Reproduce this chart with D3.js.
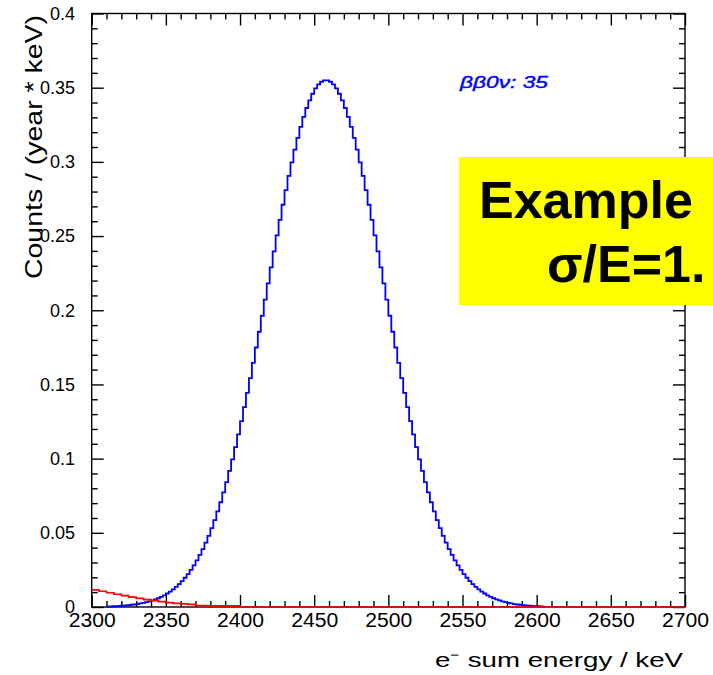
<!DOCTYPE html>
<meta charset="utf-8">
<script src="https://d3js.org/d3.v7.min.js"></script>
<style>
  body { margin: 0; background: #fff; }
  text { font-family: "Liberation Sans", Arial, sans-serif; }
</style>
<div id="chart"></div>
<script>
    // energy axis and count axis
    var xDomain = [2300, 2700];
    var yDomain = [0, 0.4];
    var xMajor = [2300, 2350, 2400, 2450, 2500, 2550, 2600, 2650, 2700];
    var yMajor = [0, 0.05, 0.1, 0.15, 0.2, 0.25, 0.3, 0.35, 0.4];
    var yLabels = ["0", "0.05", "0.1", "0.15", "0.2", "0.25", "0.3", "0.35", "0.4"];

    // signal histogram, 2 keV bins starting at 2310 keV
    var blueStart = 2310, blueWidth = 2;
    var blueValues = [
        0.0003, 0.0004, 0.0005, 0.0006, 0.0007, 0.0009, 0.0010, 0.0012, 0.0015, 0.0017,
        0.0020, 0.0024, 0.0028, 0.0033, 0.0038, 0.0044, 0.0051, 0.0059, 0.0068, 0.0079,
        0.0091, 0.0104, 0.0119, 0.0135, 0.0154, 0.0174, 0.0197, 0.0222, 0.0250, 0.0280,
        0.0314, 0.0351, 0.0390, 0.0434, 0.0480, 0.0531, 0.0585, 0.0644, 0.0706, 0.0772,
        0.0842, 0.0917, 0.0995, 0.1077, 0.1164, 0.1253, 0.1347, 0.1443, 0.1543, 0.1645,
        0.1749, 0.1855, 0.1963, 0.2072, 0.2181, 0.2289, 0.2397, 0.2504, 0.2609, 0.2711,
        0.2810, 0.2906, 0.2996, 0.3082, 0.3162, 0.3236, 0.3303, 0.3363, 0.3415, 0.3459,
        0.3495, 0.3522, 0.3540, 0.3549,
        0.3549, 0.3540, 0.3522, 0.3495, 0.3459, 0.3415, 0.3363, 0.3303, 0.3236, 0.3162,
        0.3082, 0.2996, 0.2906, 0.2810, 0.2711, 0.2609, 0.2504, 0.2397, 0.2289, 0.2181,
        0.2072, 0.1963, 0.1855, 0.1749, 0.1645, 0.1543, 0.1443, 0.1347, 0.1253, 0.1164,
        0.1077, 0.0995, 0.0917, 0.0842, 0.0772, 0.0706, 0.0644, 0.0585, 0.0531, 0.0480,
        0.0434, 0.0390, 0.0351, 0.0314, 0.0280, 0.0250, 0.0222, 0.0197, 0.0174, 0.0154,
        0.0135, 0.0119, 0.0104, 0.0091, 0.0079, 0.0068, 0.0059, 0.0051, 0.0044, 0.0038,
        0.0033, 0.0028, 0.0024, 0.0020, 0.0017, 0.0015, 0.0012, 0.0010, 0.0009, 0.0007,
        0.0006, 0.0005, 0.0004, 0.0003
    ];

    // background histogram, 5 keV bins from 2300, zero above 2400
    var redStart = 2300, redWidth = 5;
    var redValues = [
        0.0116, 0.0106, 0.0096, 0.0086, 0.0076, 0.0067, 0.0058, 0.0050, 0.0043, 0.0036,
        0.0030, 0.0025, 0.0021, 0.0018, 0.0010, 0.0009, 0.0008, 0.0008, 0.0007, 0.0007
    ];

    var W = 713, H = 675;
    var plot = { left: 91.7, right: 685, top: 13.5, bottom: 607 };

    var svg = d3.select("#chart").append("svg")
        .attr("width", W).attr("height", H);

    var x = d3.scaleLinear().domain(xDomain).range([plot.left, plot.right]);
    var y = d3.scaleLinear().domain(yDomain).range([plot.bottom, plot.top]);

    var xMinor = d3.range(xDomain[0], xDomain[1] + 1, 10).filter(function (v) { return v % 50 !== 0; });
    var yMinor = d3.range(1, 40).filter(function (i) { return i % 5 !== 0; }).map(function (i) { return i / 100; });

    function tickStyle(g) {
        g.select(".domain").remove();
        g.selectAll("line").attr("stroke", "#000").attr("stroke-width", 1.4);
    }

    // bottom axis
    var gBottom = svg.append("g").attr("transform", "translate(0," + plot.bottom + ")");
    gBottom.append("g").call(d3.axisBottom(x).tickValues(xMinor).tickSize(-6).tickFormat("")).call(tickStyle);
    gBottom.append("g").call(d3.axisBottom(x).tickValues(xMajor).tickSize(-12).tickPadding(6).tickFormat(d3.format("d")))
        .call(tickStyle)
        .selectAll("text").attr("font-size", 20).attr("fill", "#000")
        .attr("textLength", 47).attr("lengthAdjust", "spacingAndGlyphs")
        .style("font-family", "'Liberation Sans', Arial, sans-serif");

    // top axis
    var gTop = svg.append("g").attr("transform", "translate(0," + plot.top + ")");
    gTop.append("g").call(d3.axisTop(x).tickValues(xMinor).tickSize(-6).tickFormat("")).call(tickStyle);
    gTop.append("g").call(d3.axisTop(x).tickValues(xMajor).tickSize(-12).tickFormat("")).call(tickStyle);

    // left axis
    var gLeft = svg.append("g").attr("transform", "translate(" + plot.left + ",0)");
    gLeft.append("g").call(d3.axisLeft(y).tickValues(yMinor).tickSize(-6).tickFormat("")).call(tickStyle);
    gLeft.append("g").call(d3.axisLeft(y).tickValues(yMajor).tickSize(-12).tickPadding(16.7)
        .tickFormat(function (d, i) { return yLabels[i]; }))
        .call(tickStyle)
        .selectAll("text").attr("font-size", 18).attr("fill", "#000")
        .style("font-family", "'Liberation Sans', Arial, sans-serif");

    // right axis
    var gRight = svg.append("g").attr("transform", "translate(" + plot.right + ",0)");
    gRight.append("g").call(d3.axisRight(y).tickValues(yMinor).tickSize(-6).tickFormat("")).call(tickStyle);
    gRight.append("g").call(d3.axisRight(y).tickValues(yMajor).tickSize(-12).tickFormat("")).call(tickStyle);

    // frame
    svg.append("rect")
        .attr("x", plot.left).attr("y", plot.top)
        .attr("width", plot.right - plot.left).attr("height", plot.bottom - plot.top)
        .attr("fill", "none").attr("stroke", "#000").attr("stroke-width", 1.4);

    var step = d3.line()
        .x(function (d) { return x(d[0]); })
        .y(function (d) { return y(d[1]); })
        .curve(d3.curveStepAfter);

    function histPoints(start, width, values) {
        var pts = values.map(function (v, i) { return [start + i * width, v]; });
        pts.push([start + values.length * width, values[values.length - 1]]);
        return pts;
    }

    // signal
    svg.append("path")
        .attr("d", step(histPoints(blueStart, blueWidth, blueValues)))
        .attr("fill", "none").attr("stroke", "#0000ff").attr("stroke-width", 1.8);

    // background
    var redPts = histPoints(redStart, redWidth, redValues);
    redPts.push([redStart + redValues.length * redWidth, 0]);
    redPts.push([xDomain[1], 0]);
    svg.append("path")
        .attr("d", step(redPts))
        .attr("fill", "none").attr("stroke", "#ff0000").attr("stroke-width", 1.7);

    // axis titles
    svg.append("text")
        .attr("transform", "translate(41.7,279) rotate(-90)")
        .attr("font-size", 24)
        .attr("textLength", 264).attr("lengthAdjust", "spacingAndGlyphs")
        .text("Counts / (year * keV)");

    svg.append("text")
        .attr("x", 435).attr("y", 667)
        .attr("font-size", 20)
        .attr("textLength", 248).attr("lengthAdjust", "spacingAndGlyphs")
        .text("e\u207B sum energy / keV");

    // legend
    svg.append("text")
        .attr("x", 460).attr("y", 88)
        .attr("font-size", 17).attr("font-style", "italic")
        .attr("fill", "#0000ff").attr("stroke", "#0000ff").attr("stroke-width", 0.4)
        .attr("textLength", 88).attr("lengthAdjust", "spacingAndGlyphs")
        .text("\u03B2\u03B20\u03BD: 35");

    // yellow note
    svg.append("rect")
        .attr("x", 459).attr("y", 157)
        .attr("width", W - 459).attr("height", 148)
        .attr("fill", "#ffff00");
    svg.append("text")
        .attr("x", 479).attr("y", 218)
        .attr("font-size", 52).attr("font-weight", "bold")
        .text("Example");
    svg.append("text")
        .attr("x", 547).attr("y", 282)
        .attr("font-size", 52).attr("font-weight", "bold")
        .text("\u03C3/E=1.");
</script>
